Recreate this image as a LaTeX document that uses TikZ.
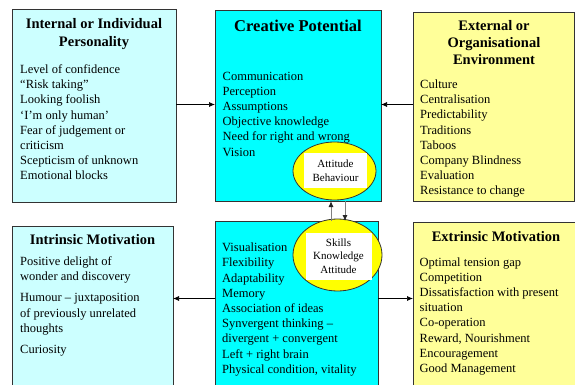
\documentclass[tikz,border=0pt]{standalone}
\usepackage{fontspec}
\setmainfont{Liberation Serif}
\usetikzlibrary{shapes.geometric,arrows.meta}
\definecolor{paleC}{HTML}{CCFFFF}
\definecolor{fullC}{HTML}{00FFFF}
\definecolor{paleY}{HTML}{FFFF99}
\definecolor{fullY}{HTML}{FFFF00}
\definecolor{edge}{HTML}{333333}
\begin{document}
\begin{tikzpicture}[x=1pt,y=-1pt,
  box/.style={draw=edge,line width=0.8pt,anchor=north west,inner sep=0pt,outer sep=0pt},
  body/.style={anchor=base west,align=left,inner sep=0pt,font=\fontsize{12.5}{15.2}\selectfont},
  ttl/.style={anchor=base,align=center,inner sep=0pt,font=\fontsize{14.5}{17.2}\selectfont\bfseries},
  oval/.style={ellipse,draw=edge,line width=0.8pt,fill=fullY,inner sep=0pt},
  patch/.style={fill=white,inner sep=0pt},
  small/.style={anchor=base,align=center,inner sep=0pt,font=\fontsize{11}{13.2}\selectfont},
  arr/.style={-{Latex[length=6pt,width=5pt]},line width=0.7pt,draw=black},
  varr/.style={-{Latex[length=6pt,width=5pt,color=black!85]},line width=1pt,draw=black!50}]
\useasboundingbox (0,0) rectangle (575,385);
\clip (0,0) rectangle (575,385);

% boxes
\node[box,fill=paleC,minimum width=164pt,minimum height=192.5pt] (tl) at (12,9.5) {};
\node[box,fill=fullC,minimum width=166pt,minimum height=190.5pt] (cp) at (215,10.5) {};
\node[box,fill=paleY,minimum width=161pt,minimum height=189pt] (tr) at (413,12) {};
\node[box,fill=paleC,minimum width=161pt,minimum height=200pt] (bl) at (12,226) {};
\node[box,fill=fullC,minimum width=163pt,minimum height=200pt] (bc) at (215,221) {};
\node[box,fill=paleY,minimum width=163pt,minimum height=200pt] (br) at (413,222) {};

% ellipses
\node[oval,minimum width=83pt,minimum height=58pt] (e1) at (334.5,171) {};
\node[patch,minimum width=63pt,minimum height=35pt] (p1) at (335.5,170.5) {};
\node[oval,minimum width=89pt,minimum height=72pt] (e2) at (337.5,255) {};
\node[patch,minimum width=66pt,minimum height=47pt] (p2) at (339,256.5) {};

% titles (anchor base = baseline of the last line)
\node[ttl] (tlT) at (94,46.2) {Internal or Individual\\Personality};
\node[ttl,font=\fontsize{16.5}{19}\selectfont\bfseries] (cpT) at (298,32) {Creative Potential};
\node[ttl] (trT) at (494,64.7) {External or\\Organisational\\Environment};
\node[ttl] (blT) at (92.5,244.6) {Intrinsic Motivation};
\node[ttl] (brT) at (496,241.3) {Extrinsic Motivation};

% bodies (anchor base west = baseline of the last line)
\node[body] (tlB) at (20,179.9) {Level of confidence\\“Risk taking”\\Looking foolish\\‘I’m only human’\\Fear of judgement or\\criticism\\Scepticism of unknown\\Emotional blocks};
\node[body] (cpB) at (222.5,156) {Communication\\Perception\\Assumptions\\Objective knowledge\\Need for right and wrong\\Vision};
\node[body] (trB) at (420,194.9) {Culture\\Centralisation\\Predictability\\Traditions\\Taboos\\Company Blindness\\Evaluation\\Resistance to change};
\node[body] (blB) at (20,353.2) {Positive delight of\\wonder and discovery\\[5.8pt]Humour – juxtaposition\\of previously unrelated\\thoughts\\[5.8pt]Curiosity};
\node[body] (bcB) at (222,373.2) {Visualisation\\Flexibility\\Adaptability\\Memory\\Association of ideas\\Synvergent thinking –\\divergent + convergent\\Left + right brain\\Physical condition, vitality};
\node[body] (brB) at (419.5,372.4) {Optimal tension gap\\Competition\\Dissatisfaction with present\\situation\\Co-operation\\Reward, Nourishment\\Encouragement\\Good Management};

% ellipse texts
\node[small,font=\fontsize{11}{14}\selectfont] (e1T) at (335.5,181.5) {Attitude\\Behaviour};
\node[small] (e2T) at (338.5,273) {Skills\\Knowledge\\Attitude};

% connectors
\coordinate (ytop) at (0,104.5);
\coordinate (ybot) at (0,298.5);
\coordinate (xup) at (331,0);
\coordinate (xdn) at (345,0);
\draw[arr] (tl.east |- ytop) -- (cp.west |- ytop);
\draw[arr] (tr.west |- ytop) -- (cp.east |- ytop);
\draw[arr] (bc.west |- ybot) -- (bl.east |- ybot);
\draw[arr] (bc.east |- ybot) -- (br.west |- ybot);
\draw[varr] (xup |- bc.north) -- (xup |- cp.south);
\draw[varr] (xdn |- cp.south) -- (xdn |- bc.north);
\end{tikzpicture}
\end{document}
